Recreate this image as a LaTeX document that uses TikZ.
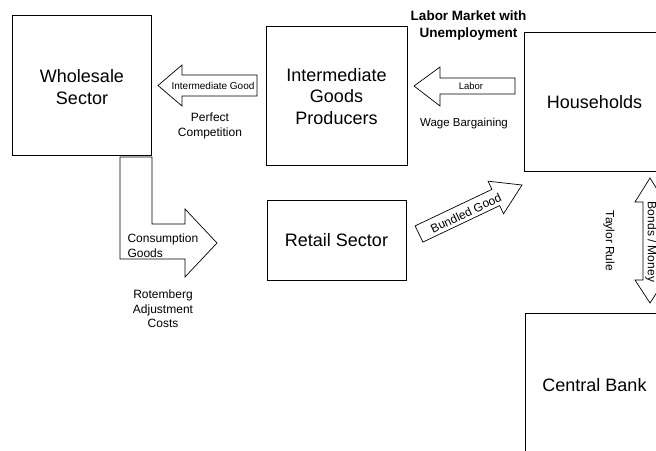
\documentclass[tikz,border=0pt]{standalone}
\usepackage{fontspec}
\setmainfont{Liberation Sans}
\begin{document}
\begin{tikzpicture}[x=1pt,y=-1pt,
  box/.style={draw=black, line width=0.8pt, inner sep=0pt},
  blockarrow/.style={draw=black, line width=0.7pt, fill=white, line join=miter},
  big/.style={font=\fontsize{18}{21.5}\selectfont, align=center},
  mid/.style={font=\fontsize{12}{14.5}\selectfont, align=center},
  small/.style={font=\fontsize{10}{12}\selectfont},
  head/.style={font=\fontsize{13.5}{17}\selectfont\bfseries, align=center}]
\useasboundingbox (0,0) rectangle (656,450);
\clip (0,0) rectangle (656,450);

% sector boxes
\node[box, minimum width=139, minimum height=140] (ws) at (81.5,85) {};
\node[big] (wst) at (82,87) {Wholesale\\Sector};
\node[box, minimum width=141, minimum height=139] (igp) at (336.5,95.5) {};
\node[big] (igpt) at (336.5,96.5) {Intermediate\\Goods\\Producers};
\node[box, minimum width=141, minimum height=139] (hh) at (594.5,101.5) {};
\node[big] (hht) at (594.5,102.5) {Households};
\node[box, minimum width=139, minimum height=80] (rs) at (336.5,240) {};
\node[big] (rst) at (336.5,240) {Retail Sector};
\node[box, minimum width=139, minimum height=144] (cb) at (594.5,385) {};
\node[big] (cbt) at (594.5,385) {Central Bank};

% Intermediate good arrow
\draw[blockarrow] (158,85.5) -- (182,65) -- (182,75) -- (257,75) -- (257,96) -- (182,96) -- (182,106) -- cycle;
\node[small] (igl) at (213,85.5) {Intermediate Good};
\node[mid] (pc) at (210,126) {Perfect\\Competition};

% Labor arrow
\draw[blockarrow] (414,86) -- (440,67) -- (440,78) -- (515,78) -- (515,94) -- (440,94) -- (440,106) -- cycle;
\node[font=\fontsize{9.5}{11}\selectfont] (lab) at (471,86) {Labor};
\node[font=\fontsize{11.5}{14}\selectfont] (wb) at (464,124) {Wage Bargaining};
\node[head] (lm) at (468.5,26) {Labor Market with\\Unemployment};

% Consumption goods bent arrow
\draw[blockarrow] (120,157) -- (152,157) -- (152,224) -- (185,224) -- (185,209) -- (217,243) -- (185,277) -- (185,259) -- (120,259) -- cycle;
\node[mid, align=left, anchor=west] (cg) at (124,245.5) {Consumption\\Goods};
\node[mid] (rac) at (163,309) {Rotemberg\\Adjustment\\Costs};

% Bundled good arrow
\draw[blockarrow] (415.1,225.9) -- (491.9,189.4) -- (488.1,181.2) -- (522,185) -- (503.5,213.8) -- (499.7,205.6) -- (422.9,242.1) -- cycle;
\node[mid, rotate=25.5] (bg) at (466,213) {Bundled Good};

% Bonds / Money double arrow
\draw[blockarrow] (650,178) -- (665,202) -- (657,202) -- (657,280) -- (665,280) -- (650,303) -- (635,280) -- (643,280) -- (643,202) -- (635,202) -- cycle;
\node[mid, rotate=-90] (bm) at (651,242) {Bonds / Money};
\node[mid, rotate=-90] (tr) at (609,241) {Taylor Rule};
\end{tikzpicture}
\end{document}
